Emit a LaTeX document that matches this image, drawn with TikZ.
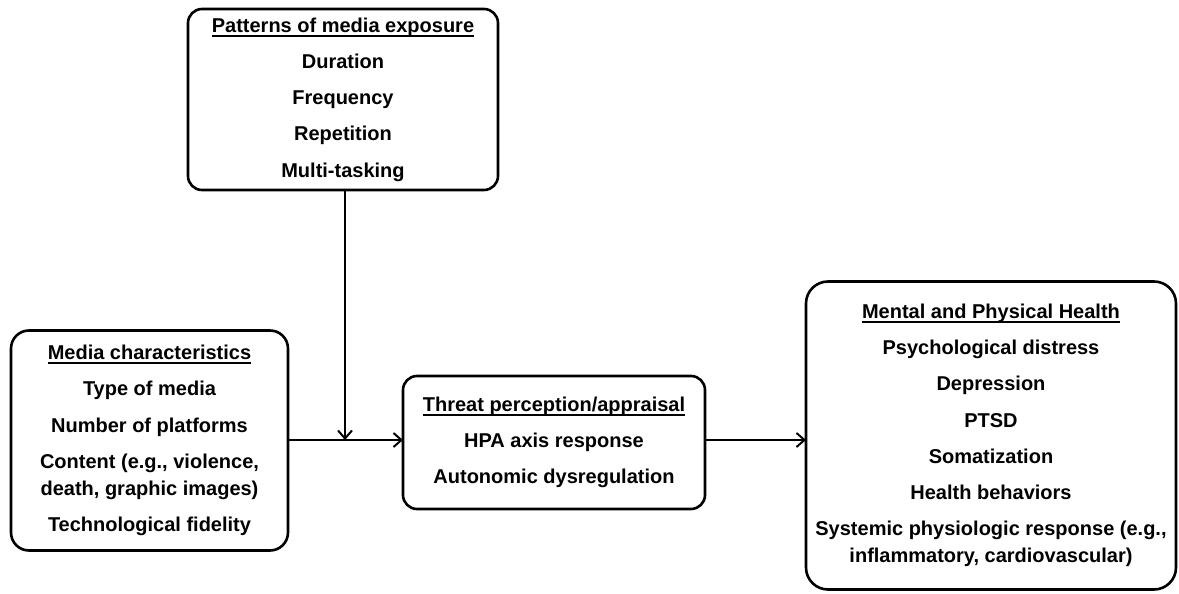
\documentclass[tikz,border=0pt]{standalone}
\usepackage{fontspec}
\setmainfont{Liberation Sans}
\usetikzlibrary{arrows.meta}
\newsavebox\hdrbox
\newcommand\hdr[1]{\sbox\hdrbox{#1}\rlap{\rule[-2.2pt]{\wd\hdrbox}{0.9pt}}\usebox\hdrbox}
\newcommand\gap{\\[4.6pt]}
\tikzset{
  box/.style={draw=black, line width=1.3pt, inner sep=0pt, outer sep=0pt,
    align=center, font=\fontsize{10}{13.5}\selectfont\bfseries},
  conn/.style={draw=black, line width=1pt},
  arr/.style={conn, -{Straight Barb[length=4pt,width=7pt,line width=1pt]}}
}
\begin{document}
\begin{tikzpicture}[x=0.5pt,y=-0.5pt]
\useasboundingbox[fill=white] (0,0) rectangle (1179,594);
\node[box, rounded corners=7pt, minimum width=155pt, minimum height=90.5pt] (pat) at (343,99.5)
  {\hdr{Patterns of media exposure}\gap
   Duration\gap
   Frequency\gap
   Repetition\gap
   Multi-tasking};
\node[box, rounded corners=9pt, minimum width=138.5pt, minimum height=110pt] (med) at (149.5,440.5)
  {\hdr{Media characteristics}\gap
   Type of media\gap
   Number of platforms\gap
   Content (e.g., violence,\\
   death, graphic images)\gap
   Technological fidelity};
\node[box, rounded corners=7pt, minimum width=151pt, minimum height=66.5pt] (thr) at (554,442.5)
  {\hdr{Threat perception/appraisal}\gap
   HPA axis response\gap
   Autonomic dysregulation};
\node[box, rounded corners=11pt, minimum width=185pt, minimum height=154pt] (hea) at (991,435.5)
  {\hdr{Mental and Physical Health}\gap
   Psychological distress\gap
   Depression\gap
   PTSD\gap
   Somatization\gap
   Health behaviors\gap
   Systemic physiologic response (e.g.,\\
   inflammatory, cardiovascular)};
\coordinate (j) at (345,440);
\draw[arr] (pat.south -| j) -- (j);
\draw[arr] (med.east |- j) -- (thr.west |- j);
\draw[arr] (thr.east |- j) -- (hea.west |- j);
\end{tikzpicture}
\end{document}
